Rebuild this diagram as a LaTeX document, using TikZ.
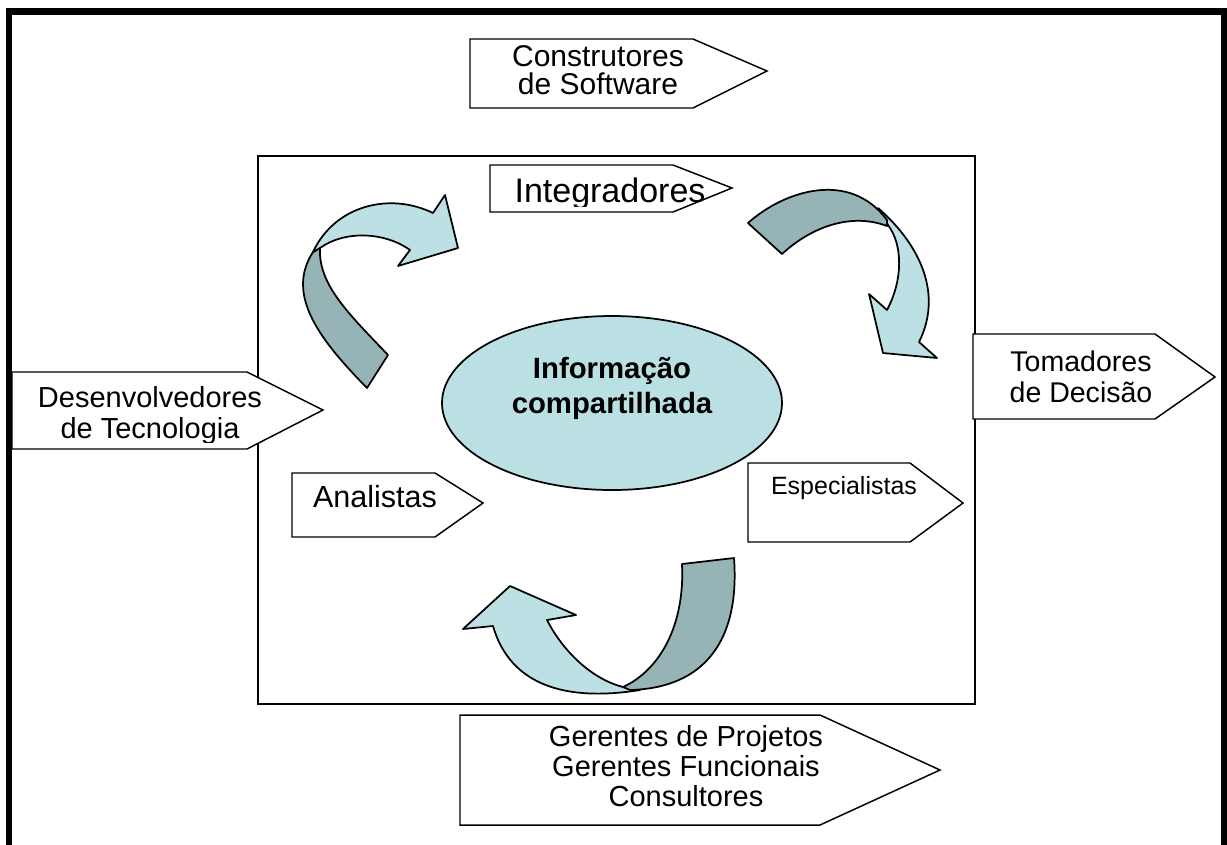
\documentclass[tikz,border=0pt]{standalone}
\usepackage{fontspec}
\setmainfont{Liberation Sans}
\usetikzlibrary{shapes.geometric}
\definecolor{ribbonlight}{HTML}{BCE0E4}
\definecolor{ribbondark}{HTML}{96B4B6}
\definecolor{bubble}{HTML}{BAE0E4}
\begin{document}
\begin{tikzpicture}[x=0.75pt,y=-0.75pt,
  tagbox/.style={draw=black,fill=white,line width=1.1pt,line join=miter},
  ribbon/.style={draw=black,line width=1.3pt,line join=round},
  txt/.style={inner sep=0pt,align=center,text=black},
  frame/.style={draw=black,line width=4.9pt}]
\useasboundingbox (0,0) rectangle (1227,844);
\fill[white] (0,0) rectangle (1227,844);

% inner panel
\draw[line width=1.1pt] (258,156) rectangle (975,704);

% central ellipse
\node[ellipse,draw=black,fill=bubble,line width=1.3pt,
      minimum width=255pt,minimum height=130.5pt,inner sep=0pt] (infobg) at (612,403) {};
\node[txt,font=\fontsize{22}{26.25}\selectfont\bfseries] (info) at (612,388)
  {Informação\\compartilhada};

% curved ribbon arrow, upper left
\draw[ribbon,fill=ribbondark] (367,388) .. controls (320,340) and (285,295) .. (313,252)
  -- (320,248) .. controls (318,285) and (350,315) .. (388,355) -- cycle;
\draw[ribbon,fill=ribbonlight] (313,252) .. controls (335,205) and (390,192) .. (433,213)
  -- (445,195) -- (458,248) -- (398,266) -- (410,250)
  .. controls (385,232) and (345,230) .. (320,248) -- cycle;

% curved ribbon arrow, upper right
\draw[ribbon,fill=ribbonlight] (878,208) .. controls (915,240) and (945,290) .. (919,342)
  -- (937,358) -- (883,353) -- (869,294) -- (887,310)
  .. controls (903,280) and (903,245) .. (888,225) -- cycle;
\draw[ribbon,fill=ribbondark] (748,223) .. controls (785,190) and (850,170) .. (887,220)
  -- (887,226) .. controls (850,212) and (810,228) .. (782,254) -- cycle;

% curved ribbon arrow, bottom
\draw[ribbon,fill=ribbonlight] (640,690) .. controls (565,702) and (510,685) .. (493,626)
  -- (463,629) -- (510,586) -- (576,615) -- (547,620)
  .. controls (565,655) and (595,680) .. (623,687) -- cycle;
\draw[ribbon,fill=ribbondark] (682,564) -- (734,558) .. controls (740,640) and (705,688) .. (630,690)
  -- (623,687) .. controls (660,670) and (685,625) .. (682,564) -- cycle;

% pointed tag boxes
\draw[tagbox] (470,39) -- (693,39) -- (767,71) -- (693,108) -- (470,108) -- cycle;
\node[txt,font=\fontsize{22.5}{21}\selectfont] (soft) at (598,70) {Construtores\\de Software};

\draw[tagbox] (490,165) -- (673,165) -- (732,188) -- (673,212) -- (490,212) -- cycle;
\begin{scope}
  \clip (480,160) rectangle (740,206);
  \node[txt,font=\fontsize{25.5}{25.5}\selectfont] (integ) at (610,194) {Integradores};
\end{scope}

\draw[tagbox] (12,372) -- (247,372) -- (323,410) -- (247,449) -- (12,449) -- cycle;
\begin{scope}
  \clip (12,375) rectangle (330,442);
  \node[txt,font=\fontsize{21.75}{23.25}\selectfont] (desenv) at (150,415) {Desenvolvedores\\de Tecnologia};
\end{scope}

\draw[tagbox] (973,334) -- (1155,334) -- (1215,377) -- (1155,419) -- (973,419) -- cycle;
\node[txt,font=\fontsize{21.4}{23.25}\selectfont] (decisao) at (1081,377) {Tomadores\\de Decisão};

\draw[tagbox] (748,463) -- (910,463) -- (963,503) -- (910,542) -- (748,542) -- cycle;
\node[txt,font=\fontsize{18.75}{18.75}\selectfont] (espec) at (844,488.5) {Especialistas};

\draw[tagbox] (292,473) -- (435,473) -- (483,503) -- (435,537) -- (292,537) -- cycle;
\node[txt,font=\fontsize{22.9}{22.9}\selectfont] (anal) at (375,497) {Analistas};

\draw[tagbox] (460,715) -- (820,715) -- (940,770) -- (820,825) -- (460,825) -- cycle;
\node[txt,font=\fontsize{21.75}{22.5}\selectfont] (gerentes) at (686,766.5)
  {Gerentes de Projetos\\Gerentes Funcionais\\Consultores};

% outer frame, open at the foot of the page
\draw[frame,line join=miter] (9.2,850) -- (9.2,11.7) -- (1224.3,11.7) -- (1224.3,850);
\end{tikzpicture}
\end{document}
